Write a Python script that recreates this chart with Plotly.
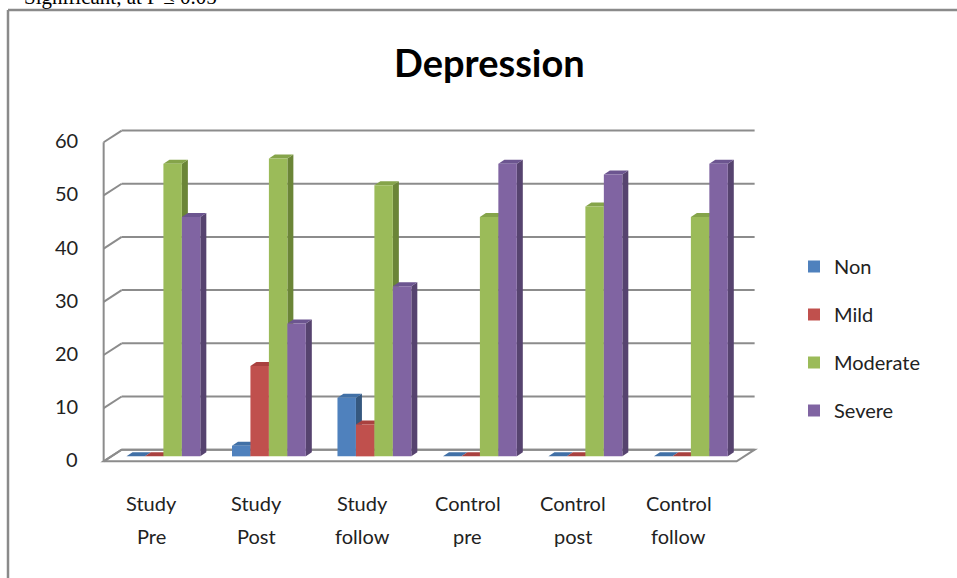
import plotly.graph_objects as go

# ---- data -------------------------------------------------------------
categories = ["Study Pre", "Study Post", "Study follow",
              "Control pre", "Control post", "Control follow"]
series_names = ["Non", "Mild", "Moderate", "Severe"]
non = [0, 2, 11, 0, 0, 0]
mild = [0, 17, 6, 0, 0, 0]
moderate = [55, 56, 51, 45, 47, 45]
severe = [45, 25, 32, 55, 53, 55]
y_ticks = [0, 10, 20, 30, 40, 50, 60]
title_text = "Depression"
note_text = "Significant, at P \u2264 0.05"

# ---- style ------------------------------------------------------------
front_colors = ["#4F81BD", "#C0504D", "#9BBB59", "#8064A2"]
side_colors = ["#35587F", "#8A3533", "#6B8537", "#56436F"]
top_colors = ["#4170A6", "#A9413F", "#85A44A", "#6C5590"]
FONT = "Lato"
GRID = "#8C8C8C"

W, H = 957, 578
L, R, T, B = 98, 187, 116, 111
X_RANGE = [-0.62, 5.75]
Y_RANGE = [-2, 64]
plot_w = W - L - R
plot_h = H - T - B
px_x = plot_w / (X_RANGE[1] - X_RANGE[0])
px_y = plot_h / (Y_RANGE[1] - Y_RANGE[0])


def off(dx_px, dy_px):
    """Screen-pixel offset -> data-unit offset."""
    return dx_px / px_x, -dy_px / px_y


def paper_x(px):
    return (px - L) / plot_w


def paper_y(py):
    return (H - B - py) / plot_h


# perspective offsets relative to the plane of the bar fronts
fx, fy = off(-7, 5)       # front edge of the floor
bx, by = off(11, -6.7)    # back wall
ddx, ddy = off(6, -4)     # depth of each column

BARGAP = 0.3
n_series = len(series_names)
bw = (1 - BARGAP) / n_series
values = [non, mild, moderate, severe]
xs = list(range(len(categories)))
x_lo, x_hi = xs[0] - 0.5, xs[-1] + 0.5

fig = go.Figure()
for name, vals, col in zip(series_names, values, front_colors):
    fig.add_trace(go.Bar(
        x=xs, y=vals, name=name, marker=dict(color=col, line=dict(width=0)),
        legendgroup=name, hoverinfo="skip",
    ))

shapes = []
# floor
shapes.append(dict(
    type="path", xref="x", yref="y", layer="below",
    path=(f"M{x_lo+fx},{fy} L{x_hi+fx},{fy} L{x_hi+bx},{by} "
          f"L{x_lo+bx},{by} Z"),
    fillcolor="#FFFFFF", line=dict(color=GRID, width=2),
))
# back-wall gridlines and side-wall diagonals
for t in y_ticks:
    shapes.append(dict(type="line", xref="x", yref="y", layer="below",
                       x0=x_lo + bx, y0=t + by, x1=x_hi + bx, y1=t + by,
                       line=dict(color=GRID, width=2)))
    shapes.append(dict(type="line", xref="x", yref="y", layer="below",
                       x0=x_lo + fx, y0=t + fy, x1=x_lo + bx, y1=t + by,
                       line=dict(color=GRID, width=2)))
shapes.append(dict(type="line", xref="x", yref="y", layer="below",
                   x0=x_lo + fx, y0=y_ticks[0] + fy,
                   x1=x_lo + fx, y1=y_ticks[-1] + fy,
                   line=dict(color=GRID, width=2)))

# side and top faces of each column
for i, vals in enumerate(values):
    for k, v in zip(xs, vals):
        left = k + (i - (n_series - 1) / 2) * bw - bw / 2
        right = left + bw
        shapes.append(dict(
            type="path", xref="x", yref="y", layer="below",
            path=(f"M{right},0 L{right},{v} L{right+ddx},{v+ddy} "
                  f"L{right+ddx},{ddy} Z"),
            fillcolor=side_colors[i], line=dict(width=0),
        ))
        shapes.append(dict(
            type="path", xref="x", yref="y", layer="below",
            path=(f"M{left},{v} L{right},{v} L{right+ddx},{v+ddy} "
                  f"L{left+ddx},{v+ddy} Z"),
            fillcolor=top_colors[i], line=dict(width=0),
        ))

# chart-area border (runs off the right and bottom of the page)
shapes.append(dict(type="line", xref="paper", yref="paper",
                   x0=paper_x(8), y0=paper_y(10), x1=paper_x(W + 5), y1=paper_y(10),
                   line=dict(color="#8A8A8A", width=2.5)))
shapes.append(dict(type="line", xref="paper", yref="paper",
                   x0=paper_x(8), y0=paper_y(10), x1=paper_x(8), y1=paper_y(H + 5),
                   line=dict(color="#8A8A8A", width=2.5)))

annotations = []
# y tick labels on the front of the side wall
for t in y_ticks:
    annotations.append(dict(
        x=x_lo + fx, y=t + fy, xref="x", yref="y", text=str(t),
        showarrow=False, xanchor="right", yanchor="middle",
        xshift=-24, yshift=2, font=dict(family=FONT, size=20, color="#222"),
    ))
# two-line category labels under the floor
for k, cat in zip(xs, categories):
    first, second = cat.split(" ", 1)
    for line, shift in ((first, -36), (second, -69)):
        annotations.append(dict(
            x=k + fx - 0.05, y=0, xref="x", yref="paper", text=line,
            showarrow=False, xanchor="center", yanchor="middle", yshift=shift,
            font=dict(family=FONT, size=20, color="#222"),
        ))
annotations.append(dict(
    x=paper_x(489), y=paper_y(62), xref="paper", yref="paper",
    text=f"<b>{title_text}</b>", showarrow=False,
    xanchor="center", yanchor="middle",
    font=dict(family=FONT, size=38, color="#000"),
))
annotations.append(dict(
    x=paper_x(22), y=paper_y(11), xref="paper", yref="paper",
    text=note_text, showarrow=False, xanchor="left", yanchor="bottom",
    font=dict(family="Liberation Serif", size=21, color="#000"),
))

fig.update_layout(
    width=W, height=H,
    margin=dict(l=L, r=R, t=T, b=B, pad=0),
    paper_bgcolor="#FFFFFF", plot_bgcolor="rgba(0,0,0,0)",
    barmode="group", bargap=BARGAP, bargroupgap=0,
    xaxis=dict(range=X_RANGE, showgrid=False, zeroline=False,
               showticklabels=False, showline=False, ticks=""),
    yaxis=dict(range=Y_RANGE, showgrid=False, zeroline=False,
               showticklabels=False, showline=False, ticks=""),
    shapes=shapes, annotations=annotations,
    showlegend=True,
    legend=dict(x=paper_x(794), y=paper_y(247), xanchor="left", yanchor="top",
                traceorder="grouped", tracegroupgap=19,
                font=dict(family=FONT, size=20, color="#222"),
                bgcolor="rgba(0,0,0,0)"),
)

fig.write_html("out.html", config={"displayModeBar": False})
